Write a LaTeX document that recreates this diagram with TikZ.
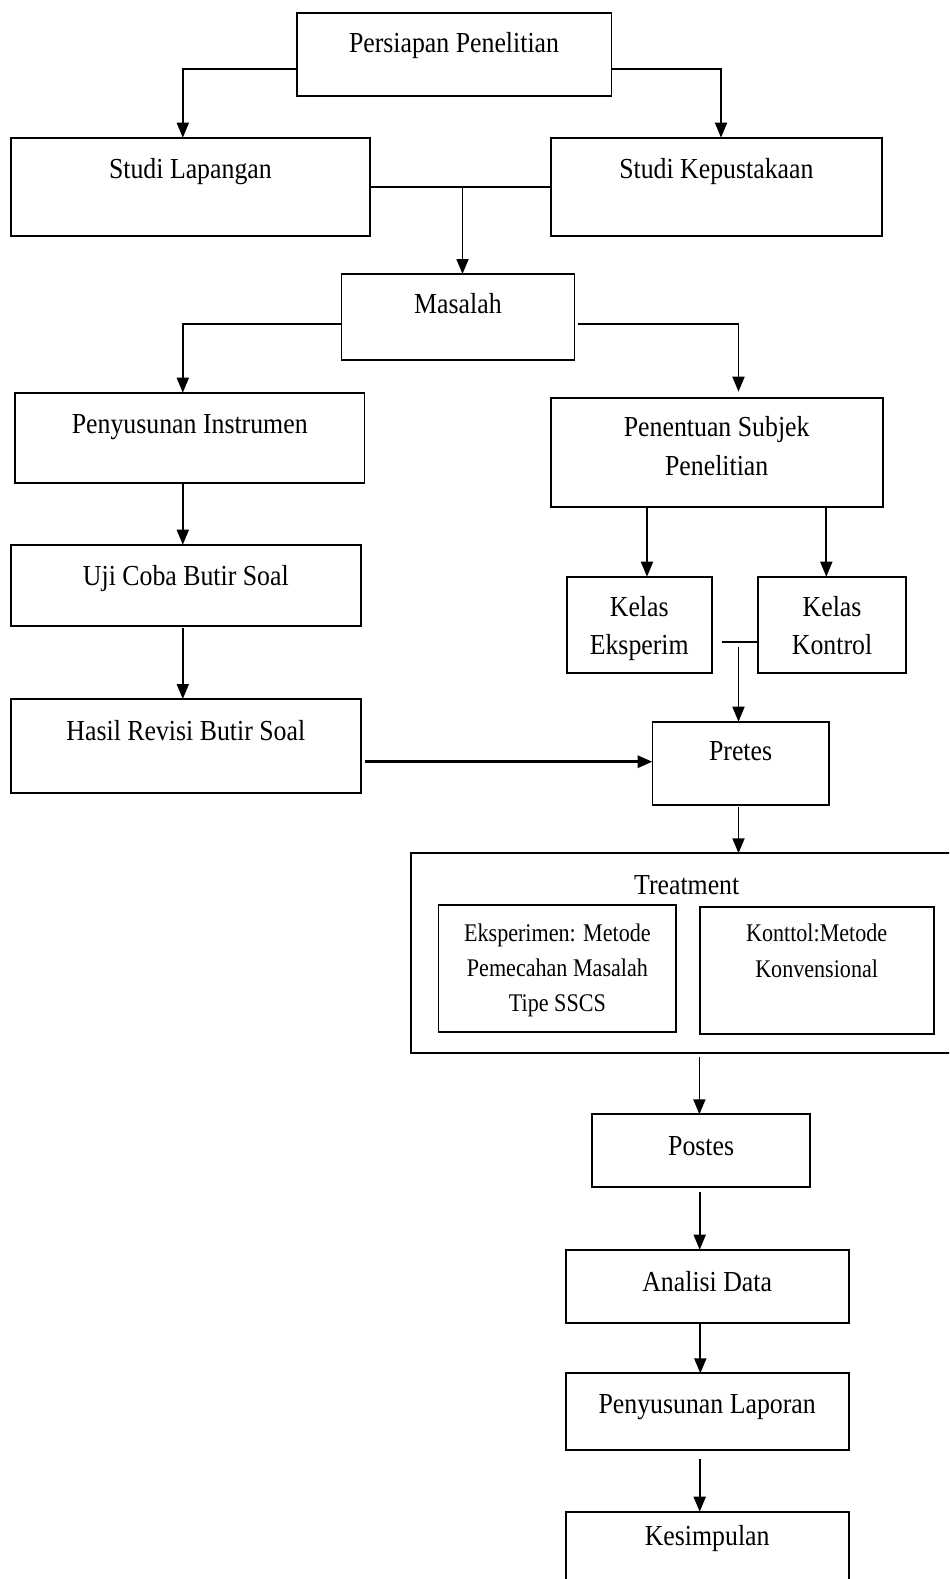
\documentclass[tikz,border=0pt]{standalone}
\usepackage{fontspec}
\setmainfont{Liberation Serif}
\usepackage{graphicx}
\usetikzlibrary{arrows.meta,calc}
\newcommand\tx[1]{\scalebox{0.89}[1]{#1}}
\newcommand\sx[1]{\scalebox{0.87}[1]{#1}}
\newcommand\bx[5]{\node[box,minimum width={(#4-#2)*0.5pt},minimum height={(#5-#3)*0.5pt}] (#1) at ({(#2+#4)/2},{(#3+#5)/2}) {};}
\begin{document}
\begin{tikzpicture}[x=0.5pt,y=-0.5pt,
  box/.style={draw,line width=0.9pt,inner sep=0pt,outer sep=0pt,rectangle},
  lbl/.style={anchor=base,inner sep=0pt,font=\fontsize{14.5}{17}\selectfont},
  slbl/.style={anchor=base,inner sep=0pt,font=\fontsize{12.7}{15}\selectfont},
  arr/.style={draw,line width=0.9pt,-{Triangle[length=7.5pt,width=6pt]}},
  ln/.style={draw,line width=0.9pt}]
\clip (0,0) rectangle (949,1579);
\fill[white] (0,0) rectangle (949,1579);
% boxes
\bx{pers}{296.6}{12.7}{611.4}{96}
\bx{lap}{10.9}{137.7}{369.9}{235.7}
\bx{kep}{550.8}{137.7}{882}{235.7}
\bx{mas}{341.4}{274}{574.5}{360}
\bx{pen}{15.1}{392.7}{364.4}{483.3}
\bx{sub}{550.8}{397.7}{882.6}{507}
\bx{uji}{10.9}{544.7}{360.8}{625.7}
\bx{ke}{566.6}{576.7}{711.9}{672.7}
\bx{kk}{757.9}{576.7}{906.2}{672.7}
\bx{has}{10.9}{699}{360.8}{793.3}
\bx{pre}{652.5}{721.7}{828.7}{805}
\bx{tre}{411.2}{853.3}{965}{1052.7}
\bx{eks}{438.5}{904.7}{676.3}{1032.3}
\bx{kon}{699.7}{907}{933.6}{1034.3}
\bx{pos}{592.3}{1114.3}{810}{1186.7}
\bx{ana}{565.7}{1249.7}{848.7}{1323.3}
\bx{lpr}{565.7}{1373.3}{848.7}{1450}
\bx{kes}{565.7}{1511.7}{848.7}{1600}
% texts
\node[lbl] (t1) at (pers.center |- 0,52.3) {\tx{Persiapan Penelitian}};
\node[lbl] (t2) at (lap.center |- 0,178.3) {\tx{Studi Lapangan}};
\node[lbl] (t3) at (kep.center |- 0,178.3) {\tx{Studi Kepustakaan}};
\node[lbl] (t4) at (mas.center |- 0,313.3) {\tx{Masalah}};
\node[lbl] (t5) at (pen.center |- 0,433.3) {\tx{Penyusunan Instrumen}};
\node[lbl] (t6a) at (sub.center |- 0,436.7) {\tx{Penentuan Subjek}};
\node[lbl] (t6b) at (sub.center |- 0,475) {\tx{Penelitian}};
\node[lbl] (t7) at (uji.center |- 0,585) {\tx{Uji Coba Butir Soal}};
\node[lbl] (t8a) at (ke.center |- 0,616.7) {\tx{Kelas}};
\node[lbl] (t8b) at (ke.center |- 0,654) {\tx{Eksperim}};
\node[lbl] (t9a) at (kk.center |- 0,616.7) {\tx{Kelas}};
\node[lbl] (t9b) at (kk.center |- 0,654) {\tx{Kontrol}};
\node[lbl] (t10) at (has.center |- 0,740) {\tx{Hasil Revisi Butir Soal}};
\node[lbl] (t11) at (pre.center |- 0,760) {\tx{Pretes}};
\node[lbl] (t12) at (686.7,894.3) {\tx{Treatment}};
\node[slbl] (t13a) at (eks.center |- 0,941.7) {\sx{Eksperimen: Metode}};
\node[slbl] (t13b) at (eks.center |- 0,976.7) {\sx{Pemecahan Masalah}};
\node[slbl] (t13c) at (eks.center |- 0,1011.7) {\sx{Tipe SSCS}};
\node[slbl] (t14a) at (kon.center |- 0,941.7) {\sx{Konttol:Metode}};
\node[slbl] (t14b) at (kon.center |- 0,977.7) {\sx{Konvensional}};
\node[lbl] (t15) at (pos.center |- 0,1155) {\tx{Postes}};
\node[lbl] (t16) at (ana.center |- 0,1291) {\tx{Analisi Data}};
\node[lbl] (t17) at (lpr.center |- 0,1413.3) {\tx{Penyusunan Laporan}};
\node[lbl] (t18) at (kes.center |- 0,1545) {\tx{Kesimpulan}};
% coordinates
\coordinate (j1) at (462.5,186.7);
\coordinate (kj) at (722,641.7);
\coordinate (kv) at (738.5,647.3);
% connectors
\draw[arr] (pers.west |- 0,69.3) -| (lap.north -| 182.8,0);
\draw[arr] (pers.east |- 0,69.3) -| (kep.north -| 721,0);
\draw[ln] (lap.east |- j1) -- (kep.west |- j1);
\draw[arr] (j1) -- (mas.north -| j1);
\draw[arr] (mas.west |- 0,324) -| (pen.north -| 182.8,0);
\draw[arr, shorten >=3pt] ([xshift=1.75pt]mas.east |- 0,324) -| (sub.north -| 738.5,0);
\draw[arr] (pen.south -| 182.8,0) -- (uji.north -| 182.8,0);
\draw[arr, shorten <=1pt] (uji.south -| 182.8,0) -- (has.north -| 182.8,0);
\draw[arr, line width=1.6pt, shorten <=2pt] (has.east |- 0,761.7) -- (pre.west |- 0,761.7);
\draw[arr] (sub.south -| 647,0) -- (ke.north -| 647,0);
\draw[arr] (sub.south -| 826.3,0) -- (kk.north -| 826.3,0);
\draw[ln] (kj) -- (kk.west |- kj);
\draw[arr] (kv) -- (pre.north -| kv);
\draw[arr, shorten <=1pt] (pre.south -| 738.5,0) -- (tre.north -| 738.5,0);
\draw[arr, shorten <=2pt] (tre.south -| 699.4,0) -- (pos.north -| 699.4,0);
\draw[arr, shorten <=2.5pt] (pos.south -| 699.7,0) -- (ana.north -| 699.7,0);
\draw[arr] (ana.south -| 700.3,0) -- (lpr.north -| 700.3,0);
\draw[arr, shorten <=4.5pt] (lpr.south -| 699.7,0) -- (kes.north -| 699.7,0);
\end{tikzpicture}
\end{document}
